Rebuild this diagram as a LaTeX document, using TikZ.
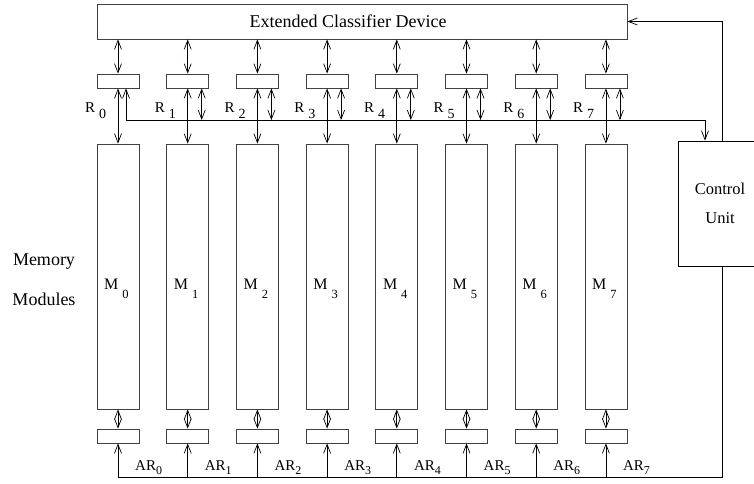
\documentclass[tikz,border=0pt]{standalone}
\usepackage{fontspec}
\setmainfont{Liberation Serif}
\usetikzlibrary{arrows.meta}
\tikzset{
  devicebox/.style={rectangle,draw=black!75,line width=0.8pt,inner sep=0pt,
    minimum width=530pt,minimum height=35pt,font=\fontsize{18}{20}\selectfont},
  regbox/.style={rectangle,draw=black!75,line width=0.8pt,inner sep=0pt,
    minimum width=42pt,minimum height=14pt},
  modulebox/.style={rectangle,draw=black!75,line width=0.8pt,inner sep=0pt,
    minimum width=42pt,minimum height=265pt},
  unitbox/.style={rectangle,draw=black,line width=0.8pt,inner sep=0pt,
    minimum width=84pt,minimum height=125pt,align=center,
    font=\fontsize{16.5}{29}\selectfont},
  busline/.style={line width=0.7pt,black},
  dataarrow/.style={busline,{Straight Barb[length=9pt,width=7pt]}-{Straight Barb[length=9pt,width=7pt]}},
  inarrow/.style={busline,-{Straight Barb[length=9pt,width=7pt]}},
  modlabel/.style={font=\fontsize{16}{18}\selectfont,inner sep=0pt,anchor=base west},
  reglabel/.style={font=\fontsize{15}{17}\selectfont,inner sep=0pt,anchor=base west},
  addrlabel/.style={font=\fontsize{15}{17}\selectfont,inner sep=0pt,anchor=base west},
  sidelabel/.style={font=\fontsize{18}{20}\selectfont,inner sep=0pt}
}

\begin{document}
\begin{tikzpicture}[x=1pt,y=-1pt]
  \useasboundingbox (0,0) rectangle (754,483);
  \newcommand{\memcolumn}[2]{%
    \node[regbox] (reg#1) at (#2,81) {};
    \node[modulebox] (mod#1) at (#2,276.5) {};
    \node[regbox] (areg#1) at (#2,436) {};
    \draw[dataarrow] (reg#1.north |- dev.south) -- (reg#1.north);
    \draw[dataarrow] (reg#1.south) -- (mod#1.north);
    \draw[dataarrow] (mod#1.south) -- (areg#1.north);
    \draw[inarrow] (areg#1.south |- abus) -- (areg#1.south);
    \ifnum#1>0
      \draw[dataarrow] ([xshift=14pt]reg#1.south) -- ([xshift=14pt]reg#1.south |- rbus);
    \fi
    \node[reglabel] (rlab#1) at ({#2-33},112)
      {R\hspace{4pt}\raisebox{-6pt}{\fontsize{14}{14}\selectfont #1}};
    \node[modlabel] (mlab#1) at ({#2-14},289)
      {M\hspace{4pt}\raisebox{-9pt}{\fontsize{12.5}{12.5}\selectfont #1}};
    \node[addrlabel] (alab#1) at ({#2+17},470)
      {AR\raisebox{-4pt}{\fontsize{12}{12}\selectfont #1}};}

  % top device, control unit and the two buses
  \node[devicebox] (dev) at (362,21.5) {Extended Classifier Device\hspace*{28pt}};
  \node[unitbox] (ctrl) at (720,203.5) {Control\\Unit};
  \coordinate (rbus) at (0,120);
  \coordinate (abus) at (0,477);

  \memcolumn{0}{118}
  \memcolumn{1}{187.7}
  \memcolumn{2}{257.4}
  \memcolumn{3}{327.1}
  \memcolumn{4}{396.8}
  \memcolumn{5}{466.5}
  \memcolumn{6}{536.2}
  \memcolumn{7}{605.9}

  \draw[dataarrow] ([xshift=8pt]reg0.south) |- (rbus -| 705,0) -- ([xshift=-15pt]ctrl.north);
  \draw[inarrow] ([xshift=2pt]ctrl.north) |- (dev.east);
  \draw[busline] ([xshift=2pt]ctrl.south) |- (areg0.south |- abus);

  \node[sidelabel] (memlab) at (44,262) {Memory};
  \node[sidelabel] (modlab) at (44,299) {Modules};
\end{tikzpicture}
\end{document}
